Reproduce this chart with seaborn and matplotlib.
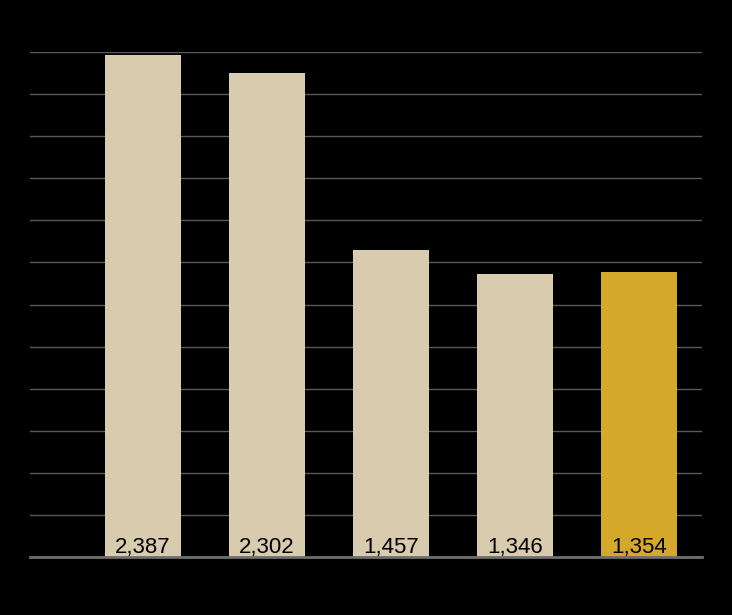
"""Bar chart on black: five totals, last bar highlighted, values printed at the bar base."""

import matplotlib.pyplot as plt
import pandas as pd
import seaborn as sns

CATEGORIES = ["1", "2", "3", "4", "5"]
VALUES = [2387, 2302, 1457, 1346, 1354]
HIGHLIGHT = "5"

BASE_COLOR = "#D9CBAD"
HIGHLIGHT_COLOR = "#D4A92B"
GRID_COLOR = "#5a5a5a"


def main():
    sns.set_theme(style="white")
    plt.rcParams["font.family"] = ["Liberation Sans", "DejaVu Sans"]

    df = pd.DataFrame({"cat": CATEGORIES, "value": VALUES})
    palette = {c: (HIGHLIGHT_COLOR if c == HIGHLIGHT else BASE_COLOR) for c in CATEGORIES}

    fig = plt.figure(figsize=(7.32, 6.15), dpi=100, facecolor="black")
    ax = fig.add_axes([30 / 732, 58 / 615, 672 / 732, 505 / 615])
    ax.set_facecolor("black")

    sns.barplot(data=df, x="cat", y="value", hue="cat", palette=palette,
                width=0.613, legend=False, saturation=1, linewidth=0,
                edgecolor="none", ax=ax)

    ax.set_xlim(-0.911, 4.508)
    ax.set_ylim(0, 2400)
    ax.set_yticks(range(0, 2401, 200))
    ax.yaxis.grid(True, color=GRID_COLOR, linewidth=1)
    ax.set_axisbelow(True)
    for side in ["top", "right", "left"]:
        ax.spines[side].set_visible(False)
    ax.spines["bottom"].set_color("#6e6e6e")
    ax.spines["bottom"].set_linewidth(2)
    ax.spines["bottom"].set_zorder(5)
    # axis labels are black on black in the reference
    ax.tick_params(colors="black", length=0, labelsize=6, pad=2)
    ax.set_xlabel("")
    ax.set_ylabel("")

    for i, v in enumerate(VALUES):
        ax.text(i, 20, f"{v:,}", ha="center", va="baseline", fontsize=16, color="black")

    fig.savefig("out.png", dpi=100, facecolor="black")


if __name__ == "__main__":
    main()
